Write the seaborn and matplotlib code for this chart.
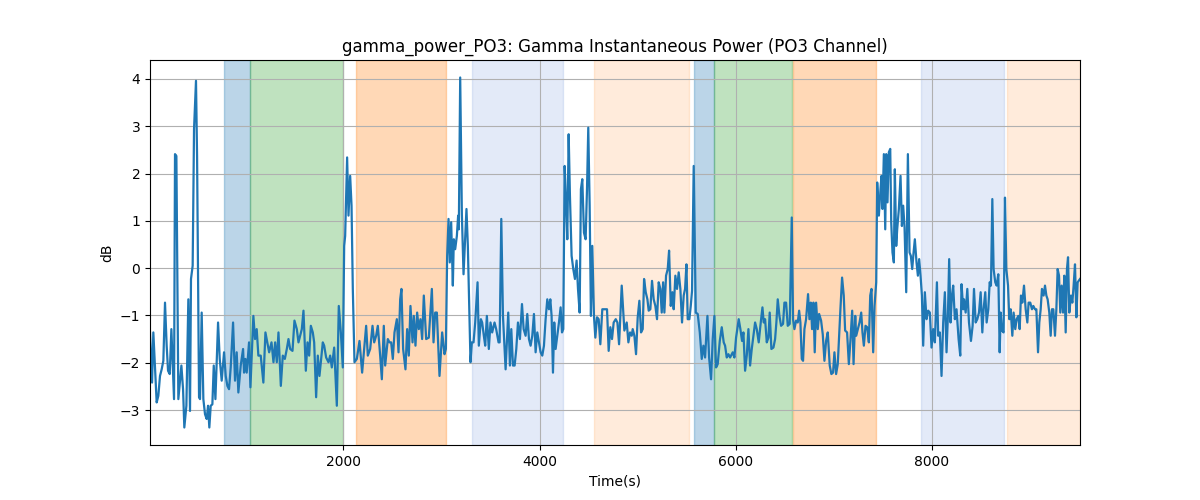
import matplotlib
matplotlib.use("Agg")
import matplotlib.pyplot as plt
import seaborn as sns
import pandas as pd

# ---- data ----
time_s = [
    27, 48, 61, 95, 112, 129, 146, 163, 180, 197, 211, 228, 245, 272, 282, 296, 316, 347, 364, 377,
    398, 418, 435, 445, 462, 476, 496, 507, 527, 537, 554, 571, 588, 605, 619, 632, 646, 663, 677, 694,
    721, 738, 758, 782, 799, 816, 833, 850, 874, 894, 911, 928, 952, 976, 986, 1000, 1013, 1037, 1051, 1081,
    1098, 1115, 1132, 1156, 1183, 1204,
    1242, 1266, 1286, 1303, 1320, 1337, 1361, 1381, 1402, 1422, 1439, 1456, 1480, 1500, 1524, 1541, 1558, 1575, 1592, 1616,
    1633, 1650, 1667, 1687, 1701, 1721, 1738, 1755, 1789, 1803, 1823, 1847, 1864, 1881, 1905, 1932, 1952, 1973, 1993, 2007,
    2017, 2037, 2051, 2068, 2082, 2095, 2112, 2136, 2163, 2190, 2211, 2231, 2248, 2272, 2296, 2313, 2333, 2350, 2374, 2391,
    2411, 2425, 2452, 2469, 2486, 2503, 2520, 2544, 2561, 2578, 2591, 2608, 2632, 2649, 2666, 2683, 2704, 2717, 2734, 2751,
    2768, 2785, 2802, 2819, 2843, 2870, 2901, 2918, 2935, 2952, 2979, 3006, 3030, 3044, 3057, 3071, 3084, 3098, 3115, 3125,
    3139, 3156, 3169, 3176, 3190, 3207, 3224, 3254, 3268, 3295, 3309, 3326, 3343, 3367, 3380, 3401, 3414, 3431, 3445, 3462,
    3482, 3499, 3516, 3540, 3557, 3581,
    3592, 3609, 3626, 3653, 3680, 3697, 3711, 3728, 3745, 3762, 3779, 3799, 3820, 3837, 3857, 3874, 3891, 3908, 3925, 3942,
    3959, 3976, 3993, 4010, 4027, 4044, 4061, 4078, 4095, 4109, 4122, 4136, 4149, 4163, 4180, 4197, 4214, 4228, 4241, 4255,
    4268, 4282, 4296, 4309, 4326, 4343, 4360, 4377, 4391, 4408, 4421, 4435, 4452, 4469, 4483, 4496, 4510, 4523, 4537, 4554,
    4568, 4585, 4602, 4619, 4639, 4666, 4687, 4704, 4721, 4738, 4755,
    4776, 4793, 4810, 4837, 4864, 4888, 4905, 4922, 4939, 4949, 4966, 4983, 5000, 5017, 5034, 5051, 5065, 5082, 5099, 5112,
    5129, 5146, 5163, 5180, 5197, 5214, 5231, 5245, 5259, 5272, 5289, 5306, 5320, 5337, 5354, 5367, 5384, 5401, 5418, 5435,
    5452, 5469, 5483, 5497, 5510, 5527, 5541, 5554, 5571, 5592, 5612, 5633, 5653, 5670, 5687, 5711, 5728, 5748, 5765, 5782,
    5799, 5816, 5837, 5857, 5877, 5891, 5908, 5925, 5942,
    5969, 5986, 6003, 6030, 6047, 6064, 6078, 6095, 6112, 6129, 6146, 6163, 6180, 6197, 6214, 6234, 6251, 6272, 6285, 6299,
    6316, 6333, 6346, 6363, 6384, 6401, 6414, 6428, 6445, 6462, 6482, 6496, 6513, 6530, 6550, 6571, 6584, 6598, 6615, 6632,
    6646, 6659, 6673, 6686, 6700, 6717, 6737, 6751, 6765, 6778, 6792, 6805, 6819, 6836, 6850, 6870, 6887, 6904, 6921, 6938,
    6958, 6975, 6992, 7006, 7023, 7040, 7057, 7067, 7084, 7101, 7115, 7135,
    7153, 7170, 7187, 7201, 7218, 7228, 7245, 7262, 7279, 7292, 7306, 7323, 7340, 7357, 7371, 7384, 7401, 7415, 7432, 7442,
    7459, 7476, 7486, 7496, 7510, 7524, 7534, 7547, 7561, 7575, 7585, 7598, 7612, 7622, 7636, 7646, 7663, 7680, 7694, 7707,
    7721, 7738, 7755, 7772, 7785, 7799, 7813, 7826, 7843, 7857, 7870, 7884, 7898, 7911, 7928, 7945, 7962, 7979, 7996, 8013,
    8030, 8051, 8064, 8081, 8098, 8115, 8132, 8149, 8163, 8176, 8190, 8204, 8217, 8234, 8251, 8272, 8289, 8302, 8319,
    8327, 8344, 8361, 8378, 8398, 8415, 8429, 8446, 8463, 8480, 8497, 8514, 8527, 8544, 8558, 8575, 8589, 8602, 8616, 8629,
    8646, 8660, 8677, 8691, 8701, 8714, 8731, 8745, 8759, 8776, 8789, 8803, 8820, 8833, 8850, 8864, 8881, 8895, 8908, 8922,
    8939, 8956, 8973, 8986, 9003, 9020, 9034, 9051, 9065, 9082, 9095, 9109, 9122, 9139, 9153, 9167, 9180, 9197, 9211, 9224,
    9238, 9255, 9269, 9282, 9296, 9309, 9323, 9337, 9350, 9364, 9377, 9388, 9401, 9418, 9432, 9445, 9459, 9473, 9486, 9510,
]

power_db = [
    -1.36, -2.42, -1.36, -2.84, -2.70, -2.28, -2.14, -1.96, -0.73, -1.64, -2.17, -2.24, -1.29, -2.77, 2.41, 2.37, -2.77, -2.06, -2.56, -3.37,
    -2.91, -0.66, -3.02, -0.23, 0.05, 2.94, 3.96, 2.37, -2.73, -2.77, -0.94, -2.77, -3.09, -3.19, -2.91, -3.37, -2.91, -2.88, -2.06, -2.77,
    -1.15, -1.92, -2.38, -1.78, -2.28, -2.49, -2.56, -2.10, -1.15, -2.38, -1.78, -2.63, -2.06, -1.71, -2.21, -1.92, -2.21, -1.57, -2.52, -1.01,
    -1.50, -1.29, -1.85, -1.85, -2.42, -1.36,
    -1.78, -1.57, -1.99, -1.57, -1.99, -1.36, -2.49, -1.85, -1.92, -1.71, -1.50, -1.71, -1.75, -1.11, -1.29, -1.57, -1.43, -1.29, -0.90, -2.17,
    -1.57, -1.85, -1.22, -1.36, -1.57, -2.73, -1.85, -2.28, -1.57, -1.64, -1.89, -1.99, -1.85, -2.10, -1.68, -2.91, -0.80, -1.36, -2.10, 0.47,
    0.68, 2.34, 1.11, 1.95, 1.32, -0.44, -1.99, -1.92, -1.54, -2.21, -1.71, -1.22, -1.85, -1.71, -1.22, -1.57, -1.43, -1.22, -1.85, -2.35,
    -1.22, -2.06, -1.50, -1.57, -1.57, -1.92, -1.36, -1.08, -1.78, -0.66, -0.44, -1.71, -2.14, -1.29, -1.85, -0.80, -1.57, -1.01, -1.64, -0.94,
    -1.29, -1.08, -1.50, -0.58, -1.50, -1.47, -0.44, -1.57, -0.94, -0.94, -2.28, -1.36, -1.82, -1.71, 0.26, 1.04, 0.12, 0.97, -0.37, 0.61,
    0.40, 0.68, 1.11, 0.82, 4.03, 1.14, -0.13, 1.25, 0.47, -1.99, -1.57, -1.57, -1.15, -0.30, -1.64, -1.08, -1.15, -1.43, -1.64, -1.01,
    -1.71, -1.15, -1.36, -1.15, -1.29, -1.57,
    -1.57, 1.04, -1.01, -2.14, -0.94, -2.06, -1.29, -2.06, -2.06, -1.71, -1.15, -1.50, -0.76, -1.29, -1.43, -0.97, -1.50, -1.64, -1.43, -0.97,
    -1.78, -1.36, -1.57, -1.78, -1.85, -1.64, -1.08, -0.66, -0.87, -0.66, -1.01, -2.21, -1.15, -1.71, -1.43, -1.15, -0.83, -1.36, -1.29, 2.16,
    1.46, 0.61, 2.83, 1.53, 0.26, -0.02, -0.23, 0.16, -0.44, -0.94, 1.67, 1.88, 0.75, 0.61, 1.67, 2.97, 1.32, -1.01, 0.47, -1.01,
    -1.47, -1.04, -1.08, -1.61, -0.87, -0.87, -0.87, -1.75, -1.25, -1.50, -1.15,
    -1.08, -1.15, -1.61, -0.37, -1.32, -1.15, -1.57, -1.36, -1.43, -1.29, -1.43, -1.82, -1.04, -0.69, -1.36, -1.29, -0.23, -0.51, -0.66, -0.90,
    -0.87, -0.27, -0.66, -0.80, -1.08, -0.30, -0.44, -0.94, -0.30, -0.94, -0.16, -0.02, 0.37, -0.80, -0.51, -0.87, -0.16, -0.44, -0.09, -0.44,
    -1.15, -0.58, -0.44, 0.08, -1.08, -1.08, -0.80, -0.48, 2.16, -0.94, -0.97, -1.36, -1.92, -1.64, -1.89, -1.01, -1.89, -2.35, -1.50, -1.01,
    -2.10, -2.03, -1.54, -1.25, -1.57, -1.64, -1.89, -1.82, -1.89,
    -1.78, -1.89, -1.47, -1.08, -1.29, -1.54, -1.36, -2.17, -1.85, -1.29, -2.06, -1.71, -1.43, -1.15, -1.29, -1.57, -1.22, -0.83, -1.15, -1.08,
    -1.57, -1.47, -0.94, -1.71, -1.68, -1.50, -1.15, -0.66, -1.01, -1.22, -1.18, -0.73, -0.73, -1.22, -1.18, 1.07, -1.08, -1.29, -1.11, -1.15,
    -0.90, -1.15, -1.92, -1.96, -1.29, -1.08, -0.55, -1.08, -0.73, -1.29, -0.73, -1.78, -0.73, -1.29, -0.97, -1.11, -1.40, -1.96, -1.54, -1.36,
    -2.06, -2.24, -2.21, -1.78, -2.24, -2.03, -1.29, -0.87, -0.20, -0.58, -1.32, -1.36,
    -2.03, -1.50, -0.90, -2.03, -1.01, -1.43, -1.29, -1.15, -0.94, -1.36, -1.64, -1.22, -1.25, -1.57, -0.58, -0.44, -1.78, -0.80, -0.30, 1.81,
    1.11, 1.67, 1.95, 1.25, 2.41, 0.82, 2.41, 1.39, 2.45, 2.52, 0.97, 0.33, 0.12, 2.09, 0.47, 0.82, 1.25, 1.95, 0.89, 1.32,
    0.86, -0.51, 2.41, 0.33, 0.26, -0.02, 0.33, 0.61, 0.12, -0.16, 0.19, -0.16, -0.58, -1.64, -0.51, -1.08, -0.90, -0.94, -1.68, -1.29,
    -1.57, -0.30, -1.43, -1.36, -2.28, -1.15, -0.51, -1.78, -1.01, 0.19, -1.15, -0.58, -0.37, -1.08, -0.87, -1.50, -1.85, -0.34, -0.87,
    -0.66, -0.94, -0.44, -1.15, -1.54, -1.22, -0.44, -1.15, -1.08, -0.94, -0.51, -1.36, -0.87, -0.51, -1.15, -0.87, -0.30, -0.37, 1.46, -0.02,
    -0.30, -0.37, -0.13, -1.78, -0.94, -1.32, -1.36, 1.49, -0.02, -0.37, -1.08, -0.87, -1.43, -0.94, -1.29, -1.08, -1.01, -1.29, -0.58, -0.73,
    -0.37, -0.87, -1.15, -0.73, -0.73, -0.87, -0.80, -0.87, -0.87, -1.78, -1.15, -0.87, -0.44, -0.58, -0.37, -0.58, -0.66, -0.94, -1.43, -0.87,
    -0.87, -1.43, -0.87, -0.02, -0.16, -0.94, -0.37, -0.94, -0.16, -1.36, -0.02, 0.23, -0.94, -0.58, -0.73, -0.37, 0.08, -1.04, -0.30, -0.23,
]

# shaded epochs: (start, end, colour, alpha)
span_starts = [785, 1051, 2132, 3315, 4559, 5579, 5783, 6579, 7885, 8762]
span_ends = [1051, 2000, 3050, 4243, 5528, 5783, 6569, 7426, 8731, 9510]
span_colors = ["tab:blue", "tab:green", "tab:orange", "#4878d0", "tab:orange",
               "tab:blue", "tab:green", "tab:orange", "#4878d0", "tab:orange"]
span_alphas = [0.3, 0.3, 0.3, 0.15, 0.15, 0.3, 0.3, 0.3, 0.15, 0.15]

title = "gamma_power_PO3: Gamma Instantaneous Power (PO3 Channel)"

df = pd.DataFrame({"Time(s)": time_s, "dB": power_db})

fig, ax = plt.subplots(figsize=(12, 5), dpi=100)
for s, e, c, a in zip(span_starts, span_ends, span_colors, span_alphas):
    ax.axvspan(s, e, color=c, alpha=a)

sns.lineplot(data=df, x="Time(s)", y="dB", ax=ax, color="tab:blue", linewidth=1.6)
ax.set_xlim(time_s[0], time_s[-1])
ax.grid(True)
ax.set_title(title)
ax.set_xlabel("Time(s)")
ax.set_ylabel("dB")

fig.savefig("out.png", dpi=100)
